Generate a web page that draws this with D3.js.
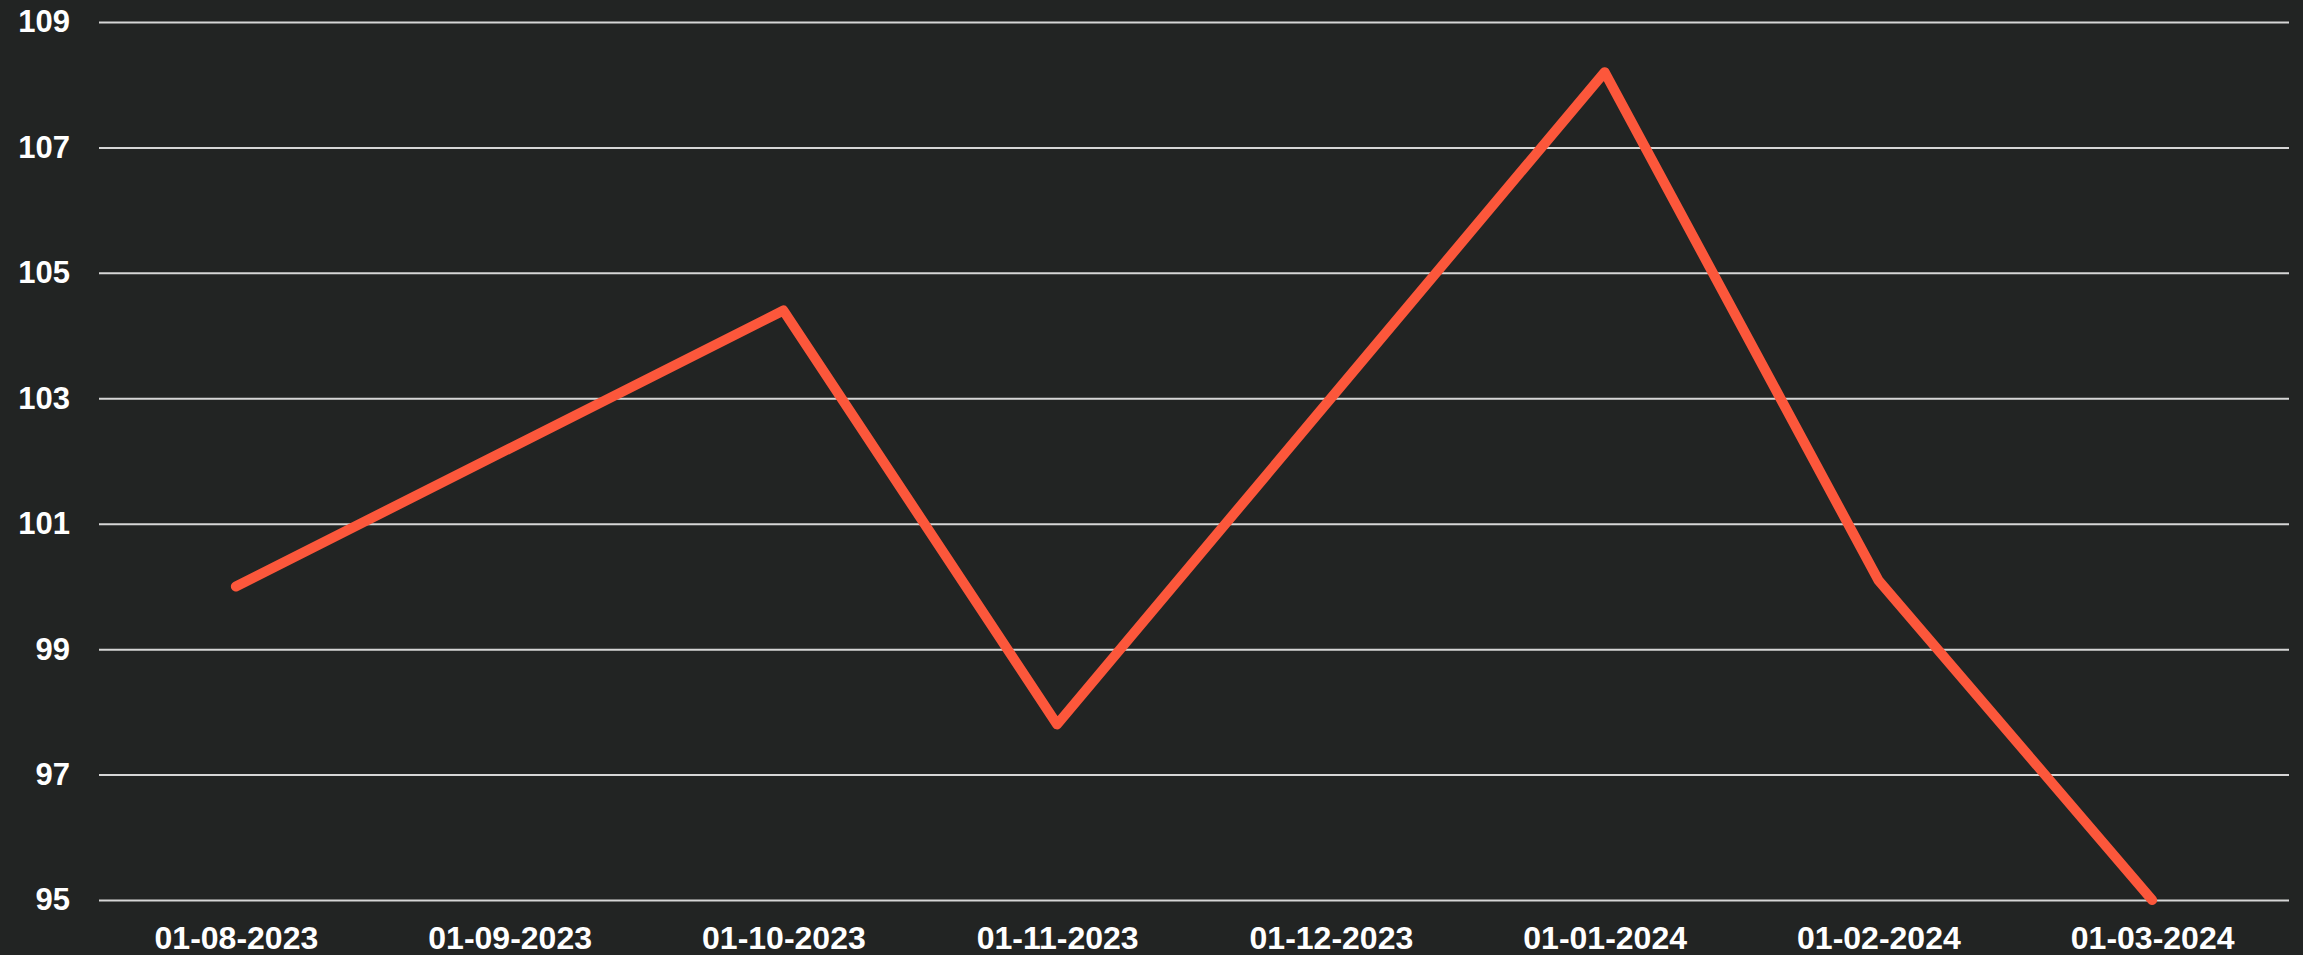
<!DOCTYPE html>
<html lang="en">
<head>
  <meta charset="UTF-8">
  <title>Index line chart</title>
  <script src="https://d3js.org/d3.v7.min.js"></script>
  <style>
    html, body {
      margin: 0;
      padding: 0;
      background-color: #222423;
    }
    svg {
      display: block;
    }
    .axis text {
      fill: #ffffff;
      font-family: "Liberation Sans", Arial, sans-serif;
      font-weight: bold;
      font-size: 31px;
    }
    .x-axis text {
      font-size: 32px;
    }
    .grid line {
      stroke: #d6d6d6;
      stroke-width: 2;
    }
  </style>
</head>
<body>
  <div id="chart"></div>

  <script>
    // data
    const dates = ["01-08-2023", "01-09-2023", "01-10-2023", "01-11-2023",
                   "01-12-2023", "01-01-2024", "01-02-2024", "01-03-2024"];
    const values = [100.0, 102.2, 104.4, 97.8, 103.0, 108.2, 100.1, 95.0];
    const yTicks = [95, 97, 99, 101, 103, 105, 107, 109];

    const width = 2303, height = 955;
    const plotLeft = 99, plotRight = 2289, plotTop = 22, plotBottom = 900;

    const svg = d3.select("#chart")
      .append("svg")
      .attr("width", width)
      .attr("height", height)
      .style("background", "#222423");

    const x = d3.scalePoint().domain(dates).range([plotLeft, plotRight]).padding(0.5);
    const y = d3.scaleLinear().domain([95, 109]).range([plotBottom, plotTop]);

    // y axis + horizontal grid
    const yAxis = svg.append("g")
      .attr("class", "axis grid")
      .attr("transform", `translate(${plotLeft},0)`)
      .call(d3.axisLeft(y).tickValues(yTicks).tickSizeInner(-(plotRight - plotLeft)).tickSizeOuter(0).tickPadding(29).tickFormat(d3.format("d")));
    yAxis.select(".domain").remove();

    // x axis labels
    const xAxis = svg.append("g")
      .attr("class", "axis x-axis")
      .attr("transform", `translate(0,${plotBottom})`)
      .call(d3.axisBottom(x).tickSize(0).tickPadding(26));
    xAxis.select(".domain").remove();

    const line = d3.line()
      .x((d, i) => x(dates[i]))
      .y(d => y(d));

    svg.append("path")
      .datum(values)
      .attr("fill", "none")
      .attr("stroke", "#fc573b")
      .attr("stroke-width", 10)
      .attr("stroke-linejoin", "round")
      .attr("stroke-linecap", "round")
      .attr("d", line);
  </script>
</body>
</html>
